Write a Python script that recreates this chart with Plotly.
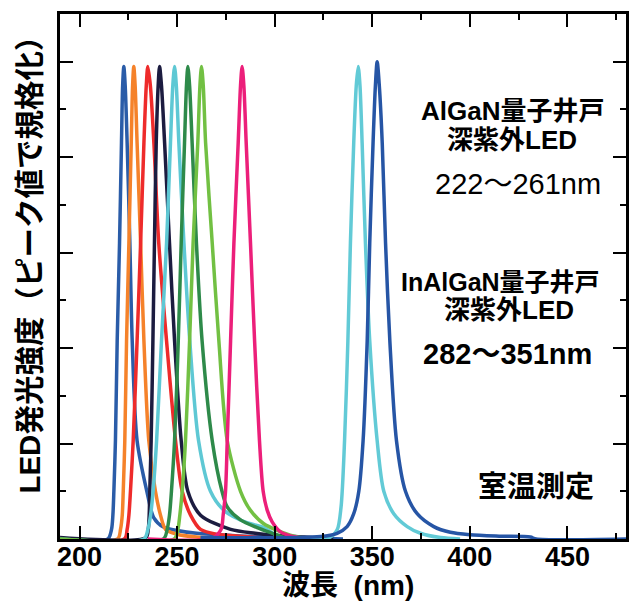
import plotly.graph_objects as go

# ---- data (wavelength nm, normalized intensity) ----
wl_222 = [190, 214.5, 216.4, 217.1, 217.6, 218.4, 219.3, 220.5, 221.5, 222.1, 222.7, 223.4, 224.4, 225.8, 227.0, 229.5, 234.5, 238.0, 243.0, 250.0, 260.0, 280.0, 300.0, 320.0, 335.0]
in_222 = [0, 0, 0.02, 0.05, 0.10, 0.206, 0.415, 0.62, 0.83, 0.95, 0.99, 0.95, 0.83, 0.62, 0.415, 0.206, 0.10, 0.045, 0.025, 0.018, 0.012, 0.007, 0.004, 0.002, 0]

wl_227 = [190, 219.5, 221.0, 221.9, 222.4, 223.2, 224.1, 225.3, 226.5, 227.2, 227.8, 228.5, 229.5, 231.3, 233.0, 235.5, 238.9, 241.5, 244.1, 250.0, 260.0, 275.0]
in_227 = [0, 0, 0.02, 0.05, 0.10, 0.206, 0.415, 0.62, 0.83, 0.95, 0.99, 0.95, 0.83, 0.62, 0.415, 0.206, 0.10, 0.05, 0.02, 0.01, 0.004, 0]

wl_234 = [190, 223.0, 224.4, 225.3, 226.1, 227.5, 229.5, 231.3, 233.0, 234.2, 235.0, 236.3, 238.1, 240.6, 244.6, 249.2, 252.6, 256.9, 262.0, 270.0, 285.0, 300.0]
in_234 = [0, 0, 0.02, 0.05, 0.10, 0.206, 0.415, 0.62, 0.83, 0.95, 0.99, 0.95, 0.83, 0.62, 0.415, 0.206, 0.10, 0.05, 0.02, 0.01, 0.005, 0]

wl_241 = [190, 234.0, 235.2, 235.7, 236.0, 236.7, 237.6, 238.4, 239.3, 240.3, 241.0, 242.0, 243.6, 246.1, 248.7, 252.1, 255.5, 262.0, 277.4, 290.0, 300.0, 315.0, 330.0]
in_241 = [0.003, 0.003, 0.02, 0.05, 0.10, 0.206, 0.415, 0.62, 0.83, 0.95, 0.99, 0.95, 0.83, 0.62, 0.415, 0.206, 0.10, 0.05, 0.02, 0.012, 0.008, 0.004, 0]

wl_248 = [190, 233.0, 235.0, 236.4, 237.7, 239.5, 242.0, 244.6, 246.6, 247.8, 248.7, 249.6, 250.9, 253.5, 256.5, 261.0, 267.1, 274.0, 280.8, 287.6, 294.4, 299.6, 304.0, 315.0]
in_248 = [0, 0, 0.02, 0.05, 0.10, 0.206, 0.415, 0.62, 0.83, 0.95, 0.99, 0.95, 0.83, 0.62, 0.415, 0.206, 0.10, 0.06, 0.043, 0.032, 0.024, 0.011, 0.002, 0]

wl_255 = [190, 243.0, 244.9, 246.1, 247.1, 248.7, 250.6, 252.1, 253.8, 254.8, 255.5, 256.4, 257.7, 259.9, 262.8, 268.0, 273.0, 275.7, 282.5, 291.0, 299.6, 305.0, 315.0]
in_255 = [0, 0, 0.02, 0.05, 0.10, 0.206, 0.415, 0.62, 0.83, 0.95, 0.99, 0.95, 0.83, 0.62, 0.415, 0.206, 0.10, 0.067, 0.04, 0.024, 0.011, 0.003, 0]

wl_261 = [190, 248.5, 250.4, 251.4, 252.6, 254.3, 256.4, 258.2, 260.6, 261.7, 262.5, 263.4, 264.6, 268.0, 271.4, 275.7, 282.5, 287.6, 294.4, 301.3, 308.0, 315.0, 325.0]
in_261 = [0, 0, 0.02, 0.05, 0.10, 0.206, 0.415, 0.62, 0.83, 0.95, 0.99, 0.95, 0.83, 0.62, 0.415, 0.206, 0.10, 0.06, 0.032, 0.018, 0.008, 0.002, 0]

wl_282 = [235, 268.0, 272.5, 273.6, 274.8, 275.7, 277.4, 279.1, 281.3, 282.5, 283.3, 284.2, 285.4, 287.6, 289.7, 292.2, 294.1, 296.2, 298.7, 303.0, 309.8, 320.0]
in_282 = [0, 0.002, 0.02, 0.05, 0.10, 0.206, 0.415, 0.62, 0.83, 0.95, 0.99, 0.95, 0.83, 0.62, 0.415, 0.206, 0.10, 0.06, 0.036, 0.015, 0.005, 0]

wl_343 = [300, 328.0, 332.0, 334.0, 335.8, 337.5, 338.8, 340.5, 341.8, 342.8, 343.7, 344.8, 346.5, 348.7, 352.5, 355.9, 361.0, 367.9, 374.7, 385.0, 395.0]
in_343 = [0, 0.003, 0.019, 0.067, 0.206, 0.415, 0.62, 0.83, 0.95, 0.99, 0.95, 0.83, 0.62, 0.415, 0.206, 0.10, 0.053, 0.026, 0.012, 0.003, 0]

wl_351 = [262, 323.5, 332.0, 337.1, 340.5, 343.1, 345.3, 347.4, 348.7, 350.4, 351.6, 352.5, 353.6, 355.1, 356.8, 359.0, 362.4, 367.0, 373.0, 381.5, 390.0, 400.0, 415.0, 431.0, 434.0, 480.0]
in_351 = [0.003, 0.005, 0.012, 0.026, 0.053, 0.10, 0.206, 0.415, 0.62, 0.83, 0.95, 1.0, 0.95, 0.83, 0.62, 0.415, 0.206, 0.10, 0.053, 0.026, 0.014, 0.009, 0.006, 0.004, 0, 0]

series = [
    (wl_222, in_222, "#2a5ca8"),
    (wl_227, in_227, "#f5822a"),
    (wl_234, in_234, "#ee2b2b"),
    (wl_241, in_241, "#1c1c40"),
    (wl_248, in_248, "#5ec8d4"),
    (wl_255, in_255, "#2e8a4a"),
    (wl_261, in_261, "#72c043"),
    (wl_282, in_282, "#ec1f7a"),
    (wl_343, in_343, "#62cad6"),
    (wl_351, in_351, "#2655a5"),
]

fig = go.Figure()
for wl, inten, col in series:
    fig.add_trace(go.Scatter(x=wl, y=inten, mode="lines",
                             line=dict(color=col, width=3.5, shape="spline", smoothing=0.8),
                             showlegend=False, hoverinfo="skip"))

tickfont = dict(family="Liberation Sans, Arial, sans-serif", size=27, color="black", weight="bold")
jp = "Liberation Sans, Noto Sans CJK JP, sans-serif"

fig.update_xaxes(range=[190, 480], dtick=50, tick0=200, ticks="inside", ticklen=13, tickwidth=2,
                 tickcolor="black", showline=True, linewidth=3, linecolor="black", mirror="ticks",
                 showgrid=False, zeroline=False, tickfont=tickfont, ticklabelstandoff=-8,
                 minor=dict(dtick=25, tick0=200, ticks="inside", ticklen=6, tickwidth=2, tickcolor="black"))
fig.update_yaxes(range=[0, 1.1], dtick=0.2, tick0=0, ticks="inside", ticklen=13, tickwidth=2,
                 tickcolor="black", showline=True, linewidth=3, linecolor="black", mirror="ticks",
                 showgrid=False, zeroline=False, showticklabels=False,
                 minor=dict(dtick=0.1, tick0=0, ticks="inside", ticklen=6, tickwidth=2, tickcolor="black"))

def ann(text, x, y, size, bold=True, angle=0):
    t = f"<b>{text}</b>" if bold else text
    fig.add_annotation(text=t, x=x, y=y, xref="paper", yref="paper", showarrow=False,
                       xanchor="center", yanchor="middle", textangle=angle,
                       font=dict(family=jp, size=size, color="black"))

ann("AlGaN量子井戸", 0.7986, 0.8145, 26)
ann("深紫外LED", 0.7986, 0.7594, 26)
ann("222～261nm", 0.809, 0.676, 29, bold=False)
ann("InAlGaN量子井戸", 0.779, 0.4887, 25)
ann("深紫外LED", 0.793, 0.4355, 26)
ann("282～351nm", 0.790, 0.352, 29)
ann("室温測定", 0.841, 0.0985, 29)
ann("LED発光強度（ピーク値で規格化）", -0.053, 0.536, 29.5, angle=-90)
ann("波長\u00a0 (nm)", 0.509, -0.089, 28)

# page body has an 8px margin; size/margins chosen so the plot area lands where the reference's does
fig.update_layout(width=629, height=597, margin=dict(l=52, r=11, t=3, b=66),
                  plot_bgcolor="white", paper_bgcolor="white")
fig.write_html("out.html")
